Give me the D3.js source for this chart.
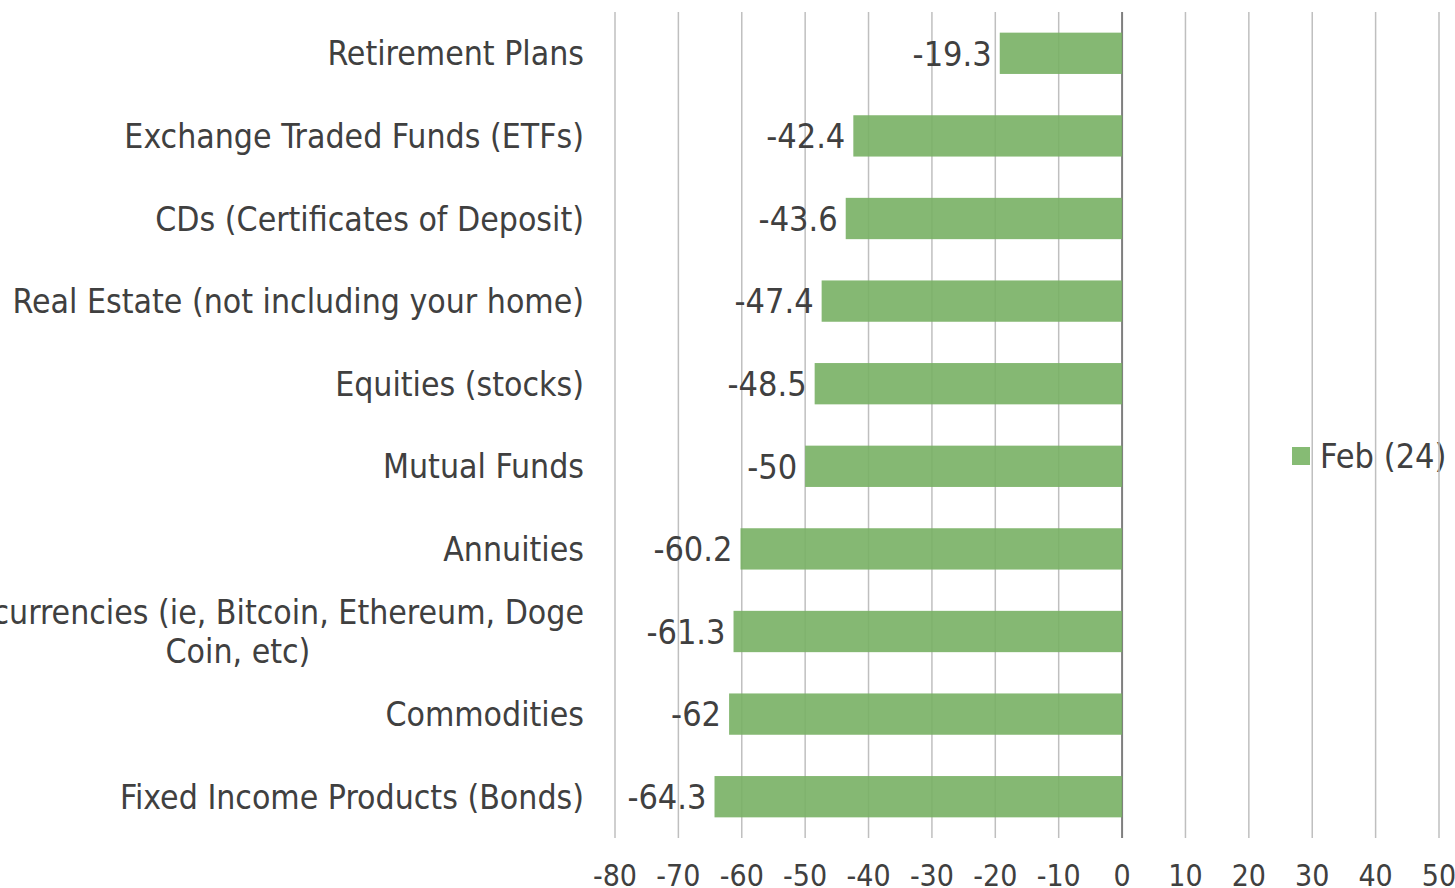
<!DOCTYPE html>
<html>
<head>
<meta charset="utf-8">
<script src="https://cdn.jsdelivr.net/npm/d3@7"></script>
<style>
  html, body { margin: 0; padding: 0; background: #fff; }
  svg { display: block; }
  text { font-family: "DejaVu Sans Condensed", "DejaVu Sans", Verdana, sans-serif; font-stretch: condensed; fill: #404040; }
</style>
</head>
<body>
<svg id="chart" width="1455" height="888"></svg>
<script>
// Investment categories, top to bottom
const categories = [
  "Retirement Plans",
  "Exchange Traded Funds (ETFs)",
  "CDs (Certificates of Deposit)",
  "Real Estate (not including your home)",
  "Equities (stocks)",
  "Mutual Funds",
  "Annuities",
  "Cryptocurrencies (ie, Bitcoin, Ethereum, Doge\nCoin, etc)",
  "Commodities",
  "Fixed Income Products (Bonds)"
];
// Net score per category, Feb (24)
const values = [-19.3, -42.4, -43.6, -47.4, -48.5, -50, -60.2, -61.3, -62, -64.3];
const seriesName = "Feb (24)";
const xTicks = [-80, -70, -60, -50, -40, -30, -20, -10, 0, 10, 20, 30, 40, 50];

const svg = d3.select("#chart");
const plot = { left: 615, right: 1439, top: 12, bottom: 838 };

const x = d3.scaleLinear().domain([-80, 50]).range([plot.left, plot.right]);
const y = d3.scaleBand().domain(categories).range([plot.top, plot.bottom]).paddingInner(0.5).paddingOuter(0.25);

// Legend (sits beneath the gridlines)
const legend = svg.append("g").attr("transform", "translate(1292,447)");
legend.append("rect").attr("width", 18).attr("height", 18).attr("fill", "#86bb74");
legend.append("text").attr("x", 28).attr("y", 21).attr("font-size", 34).text(seriesName);

// Vertical gridlines
svg.append("g").selectAll("line").data(xTicks).join("line")
  .attr("x1", d => x(d)).attr("x2", d => x(d))
  .attr("y1", plot.top).attr("y2", plot.bottom)
  .attr("stroke", d => d === 0 ? "#7f7f7f" : "#bfbfbf")
  .attr("stroke-width", d => d === 0 ? 2 : 1.5);

// Bars
svg.append("g").selectAll("rect").data(values).join("rect")
  .attr("x", d => x(Math.min(0, d)))
  .attr("width", d => Math.abs(x(d) - x(0)))
  .attr("y", (d, i) => y(categories[i]))
  .attr("height", y.bandwidth())
  .attr("fill", "#78b064")
  .attr("fill-opacity", 0.9);

// Value labels at bar ends
svg.append("g").selectAll("text").data(values).join("text")
  .attr("x", d => x(d) - 8)
  .attr("y", (d, i) => y(categories[i]) + y.bandwidth() / 2)
  .attr("dy", "0.36em")
  .attr("text-anchor", "end")
  .attr("font-size", 34)
  .text(d => String(d));

// Category axis labels (multi-line labels are centred on one another)
const labelRight = 584;
const catG = svg.append("g");
categories.forEach((c, i) => {
  const lines = c.split("\n");
  const t = catG.append("text").attr("font-size", 33.5);
  const cy = y(c) + y.bandwidth() / 2;
  const lh = 39;
  lines.forEach((ln, j) => {
    t.append("tspan").attr("y", cy + (j - (lines.length - 1) / 2) * lh).attr("dy", "0.36em").text(ln);
  });
  if (lines.length === 1) {
    t.attr("text-anchor", "end").selectAll("tspan").attr("x", labelRight);
  } else {
    const widths = [];
    t.selectAll("tspan").each(function() { widths.push(this.getComputedTextLength()); });
    const cx = labelRight - d3.max(widths) / 2;
    t.attr("text-anchor", "middle").selectAll("tspan").attr("x", cx);
  }
});

// Value axis tick labels
svg.append("g").selectAll("text").data(xTicks).join("text")
  .attr("x", d => x(d))
  .attr("y", 886)
  .attr("text-anchor", "middle")
  .attr("font-size", 30)
  .text(d => d);
</script>
</body>
</html>
